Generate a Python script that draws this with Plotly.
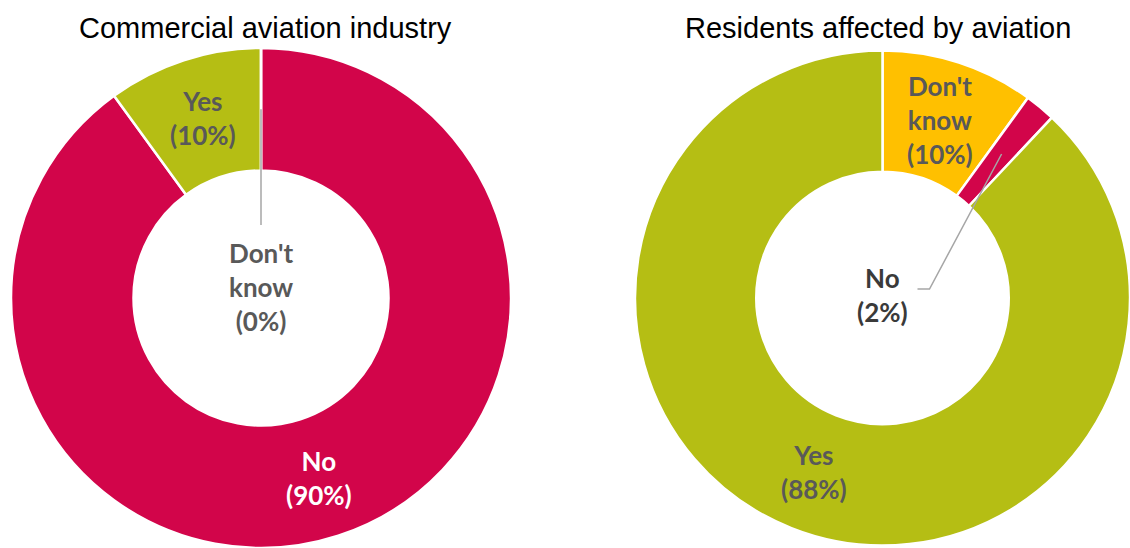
import math
import plotly.graph_objects as go

W, H = 1130, 548
M_TOP = 48
PLOT_H = H - M_TOP

# Commercial aviation industry
left_labels = ["No", "Yes", "Don't know"]
left_values = [90, 10, 0]
left_colors = ["#D2054A", "#B5BE14", "#FFC000"]

# Residents affected by aviation
right_labels = ["Don't know", "No", "Yes"]
right_values = [10, 2, 88]
right_colors = ["#FFC000", "#D2054A", "#B5BE14"]

titles = ["Commercial aviation industry", "Residents affected by aviation"]

HOLE = 0.51
LABEL_FONT = "Lato"
LABEL_SIZE = 26
GREY_TEXT = "#595959"
DOMAINS = [[10 / W, 512 / W], [635 / W, 1.0]]


def px_to_paper(x, y):
    return x / W, (H - y) / PLOT_H


def geometry(dom):
    x0, x1 = dom[0] * W, dom[1] * W
    r = min(x1 - x0, PLOT_H) / 2
    return (x0 + x1) / 2, M_TOP + PLOT_H / 2, r


def label_text(name, val):
    return "<b>" + name.replace(" ", "<br>") + "<br>(" + f"{val}%" + ")</b>"


fig = go.Figure()
annotations = []
shapes = []

charts = [
    (left_labels, left_values, left_colors, DOMAINS[0], GREY_TEXT, (0, -11)),
    (right_labels, right_values, right_colors, DOMAINS[1], "#3A3A3A", (0, -3)),
]

for i, (labels, values, colors, dom, small_col, centre_off) in enumerate(charts):
    fig.add_trace(go.Pie(
        labels=labels, values=values,
        marker=dict(colors=colors, line=dict(color="white", width=2.5)),
        hole=HOLE, sort=False, direction="clockwise", rotation=0,
        textinfo="none", hoverinfo="skip", showlegend=False,
        domain=dict(x=dom, y=[0, 1]),
    ))
    cx, cy, R = geometry(dom)
    r_mid = R * (1 + HOLE) / 2
    total = sum(values)
    start = 0.0
    for name, val, col in zip(labels, values, colors):
        span = 360.0 * val / total
        mid = math.radians(start + span / 2)
        start += span
        mx, my = cx + r_mid * math.sin(mid), cy - r_mid * math.cos(mid)
        if val >= 5:
            tcol = "white" if col == "#D2054A" else GREY_TEXT
            px, py = px_to_paper(mx, my)
            annotations.append(dict(
                x=px, y=py, xref="paper", yref="paper", showarrow=False,
                text=label_text(name, val), align="center",
                font=dict(family=LABEL_FONT, size=LABEL_SIZE, color=tcol),
                xanchor="center", yanchor="middle",
            ))
        else:
            lx, ly = cx + centre_off[0], cy + centre_off[1]
            px, py = px_to_paper(lx, ly)
            annotations.append(dict(
                x=px, y=py, xref="paper", yref="paper", showarrow=False,
                text=label_text(name, val), align="center",
                font=dict(family=LABEL_FONT, size=LABEL_SIZE, color=small_col),
                xanchor="center", yanchor="middle",
            ))
            # leader line from the slice to its label
            if name.count(" "):
                pts = [(mx, my), (lx, ly - 62)]
            else:
                pts = [(mx, my), (lx + 47, ly - 6), (lx + 35, ly - 6)]
            path = ""
            for k, (ax, ay) in enumerate(pts):
                qx, qy = px_to_paper(ax, ay)
                path += ("M " if k == 0 else " L ") + f"{qx} {qy}"
            shapes.append(dict(type="path", xref="paper", yref="paper",
                               path=path, line=dict(color="#A6A6A6", width=1.5)))

    tx, ty = px_to_paper([265, 878][i], 28)
    annotations.append(dict(
        x=tx, y=ty, xref="paper", yref="paper", showarrow=False,
        text=titles[i], xanchor="center", yanchor="middle",
        font=dict(family="Liberation Sans, Arial", size=29, color="black"),
    ))

fig.update_layout(
    width=W, height=H, autosize=False,
    margin=dict(l=0, r=0, t=M_TOP, b=0, pad=0),
    paper_bgcolor="white", plot_bgcolor="white",
    annotations=annotations, shapes=shapes,
)

fig.write_html("out.html")
